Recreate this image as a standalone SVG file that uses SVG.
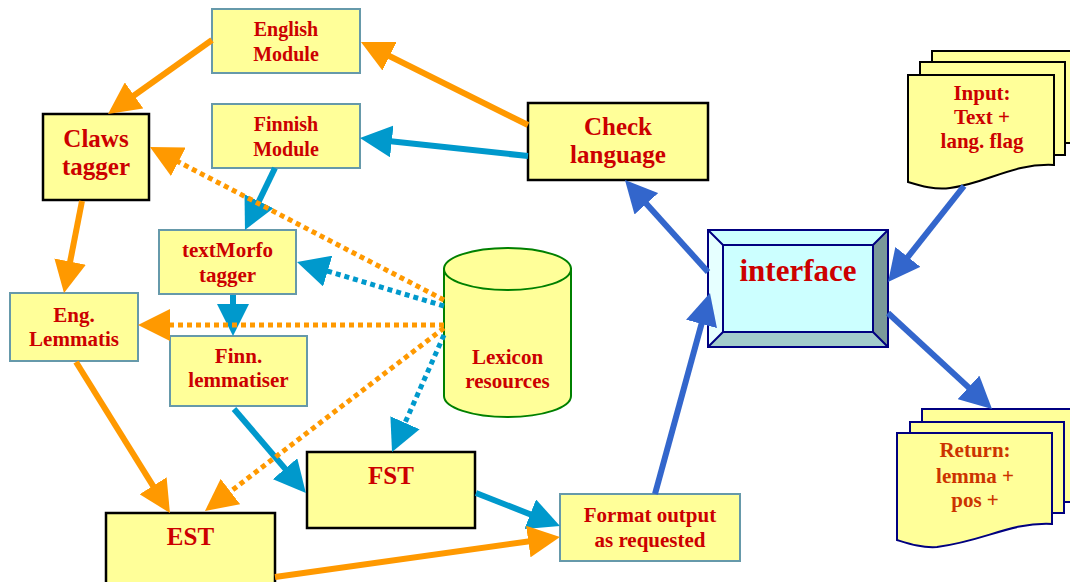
<svg xmlns="http://www.w3.org/2000/svg" width="1070" height="582" viewBox="0 0 1070 582">
  <style>
    .box { fill: #ffff99; stroke: #6699aa; stroke-width: 2; }
    .boxk { fill: #ffff99; stroke: #000000; stroke-width: 2.5; }
    .page { fill: #ffff99; stroke: #000000; stroke-width: 2; }
    .pagen { fill: #ffff99; stroke: #000080; stroke-width: 2; }
    .t { font-family: "Liberation Serif", "Times New Roman", serif; font-weight: bold; fill: #cc0000; text-anchor: middle; }
    .s21 { font-size: 21px; }
    .s20 { font-size: 20px; }
    .s25 { font-size: 25px; }
    .or { stroke: #ff9900; stroke-width: 6; fill: none; marker-end: url(#hOr); }
    .bl { stroke: #0099cc; stroke-width: 6; fill: none; marker-end: url(#hBl); }
    .rb { stroke: #3366cc; stroke-width: 6; fill: none; marker-end: url(#hRb); }
    .dot { stroke-width: 5; stroke-dasharray: 5 4; }
  </style>
  <defs>
    <marker id="hOr" viewBox="0 0 32 32" markerWidth="32" markerHeight="32" markerUnits="userSpaceOnUse" refX="20" refY="16" orient="auto">
      <path d="M0,0 L32,16 L0,32 Z" fill="#ff9900"/>
    </marker>
    <marker id="hBl" viewBox="0 0 32 32" markerWidth="32" markerHeight="32" markerUnits="userSpaceOnUse" refX="20" refY="16" orient="auto">
      <path d="M0,0 L32,16 L0,32 Z" fill="#0099cc"/>
    </marker>
    <marker id="hRb" viewBox="0 0 32 32" markerWidth="32" markerHeight="32" markerUnits="userSpaceOnUse" refX="20" refY="16" orient="auto">
      <path d="M0,0 L32,16 L0,32 Z" fill="#3366cc"/>
    </marker>
  </defs>

  <rect width="1070" height="582" fill="#ffffff"/>

  <!-- nodes -->
  <g id="english-module">
    <rect class="box" x="212" y="9" width="148" height="64"/>
    <text class="t s20" x="286" y="36">English</text>
    <text class="t s20" x="286" y="61">Module</text>
  </g>
  <g id="finnish-module">
    <rect class="box" x="212" y="104" width="148" height="64"/>
    <text class="t s20" x="286" y="131">Finnish</text>
    <text class="t s20" x="286" y="156">Module</text>
  </g>
  <g id="claws-tagger">
    <rect class="boxk" x="43" y="114" width="106" height="86"/>
    <text class="t s25" x="96" y="147">Claws</text>
    <text class="t s25" x="96" y="175">tagger</text>
  </g>
  <g id="textmorfo-tagger">
    <rect class="box" x="159" y="230" width="137" height="64"/>
    <text class="t s21" x="227.5" y="257">textMorfo</text>
    <text class="t s21" x="227.5" y="282">tagger</text>
  </g>
  <g id="eng-lemmatis">
    <rect class="box" x="10" y="293" width="128" height="68"/>
    <text class="t s21" x="74" y="322">Eng.</text>
    <text class="t s21" x="74" y="346">Lemmatis</text>
  </g>
  <g id="finn-lemmatiser">
    <rect class="box" x="170" y="336" width="137" height="70"/>
    <text class="t s21" x="238.5" y="363">Finn.</text>
    <text class="t s21" x="238.5" y="387">lemmatiser</text>
  </g>
  <g id="fst">
    <rect class="boxk" x="307" y="452" width="168" height="76"/>
    <text class="t s25" x="391" y="484">FST</text>
  </g>
  <g id="est">
    <rect class="boxk" x="106" y="513" width="169" height="80"/>
    <text class="t s25" x="190.5" y="545">EST</text>
  </g>
  <g id="format-output">
    <rect class="box" x="560" y="494" width="180" height="67"/>
    <text class="t s21" x="650" y="522">Format output</text>
    <text class="t s21" x="650" y="547">as requested</text>
  </g>
  <g id="check-language">
    <rect class="boxk" x="528" y="103" width="180" height="77"/>
    <text class="t s25" x="618" y="135">Check</text>
    <text class="t s25" x="618" y="163">language</text>
  </g>
  <g id="lexicon-resources">
    <path d="M444,269 V396 A63.5,21 0 0 0 571,396 V269 Z" fill="#ffff99" stroke="#008000" stroke-width="2"/>
    <ellipse cx="507.5" cy="269" rx="63.5" ry="21" fill="#ffff99" stroke="#008000" stroke-width="2"/>
    <text class="t s21" x="507.5" y="364">Lexicon</text>
    <text class="t s21" x="507.5" y="388">resources</text>
  </g>
  <g id="interface">
    <rect x="708" y="230" width="180" height="117" fill="#ccffff"/>
    <polygon points="708,230 888,230 873,245 723,245" fill="#ccffff"/>
    <polygon points="708,230 723,245 723,332 708,347" fill="#e6ffff"/>
    <polygon points="888,230 888,347 873,332 873,245" fill="#7a9999"/>
    <polygon points="708,347 723,332 873,332 888,347" fill="#a3cccc"/>
    <g fill="none" stroke="#000080" stroke-width="2">
      <rect x="708" y="230" width="180" height="117"/>
      <rect x="723" y="245" width="150" height="87"/>
      <path d="M708,230 L723,245 M888,230 L873,245 M708,347 L723,332 M888,347 L873,332"/>
    </g>
    <text class="t" x="798" y="281" font-size="31">interface</text>
  </g>
  <g id="input">
    <rect class="page" x="932" y="51" width="150" height="92"/>
    <rect class="page" x="920" y="62" width="145" height="93"/>
    <path class="page" d="M908,75 H1054 V165 C1012,163 988,183 950,188 C935,190 921,186 908,182 Z"/>
    <text class="t s21" x="982" y="100">Input:</text>
    <text class="t s21" x="982" y="124">Text +</text>
    <text class="t s21" x="982" y="148">lang. flag</text>
  </g>
  <g id="return">
    <rect class="pagen" x="922" y="409" width="160" height="93"/>
    <rect class="pagen" x="910" y="422" width="154" height="91"/>
    <path class="pagen" d="M897,433 H1052 V524 C1010,522 985,541 937,547 C922,548 910,544 897,540 Z"/>
    <g class="t s21" style="fill:#cc3300">
      <text x="975" y="457">Return:</text>
      <text x="975" y="483">lemma +</text>
      <text x="975" y="507">pos +</text>
    </g>
  </g>

  <!-- connectors -->
  <g id="connectors">
    <line class="or" x1="212" y1="40" x2="117.8" y2="107"/>
    <line class="or" x1="528" y1="125" x2="371.7" y2="47.3"/>
    <line class="bl" x1="528" y1="156" x2="371.9" y2="139.3"/>
    <line class="bl" x1="275" y1="168" x2="250.2" y2="219.2"/>
    <line class="or" x1="82" y1="201" x2="66.3" y2="281.2"/>
    <line class="or" x1="76" y1="362" x2="163.6" y2="502.8"/>
    <line class="bl" x1="233" y1="295" x2="233" y2="324"/>
    <line class="bl" x1="234" y1="409" x2="298.1" y2="483.9"/>
    <line class="bl" x1="476" y1="493" x2="548.8" y2="521.6"/>
    <line class="or" x1="275" y1="577" x2="548.1" y2="538.7"/>
    <line class="rb" x1="655" y1="494" x2="706.8" y2="304.6"/>
    <line class="rb" x1="708" y1="272" x2="633" y2="188.9"/>
    <line class="rb" x1="964" y1="186" x2="895.5" y2="272.6"/>
    <line class="rb" x1="888" y1="313" x2="983.2" y2="400.9"/>
    <!-- lexicon lookups -->
    <line class="or dot" x1="444" y1="300" x2="160.6" y2="152.6"/>
    <line class="bl dot" x1="444" y1="306" x2="308.5" y2="265.4"/>
    <line class="or dot" x1="444" y1="325" x2="150" y2="325"/>
    <line class="or dot" x1="444" y1="328" x2="214.5" y2="503.7"/>
    <line class="bl dot" x1="444" y1="335" x2="396.9" y2="441.1"/>
  </g>
</svg>
